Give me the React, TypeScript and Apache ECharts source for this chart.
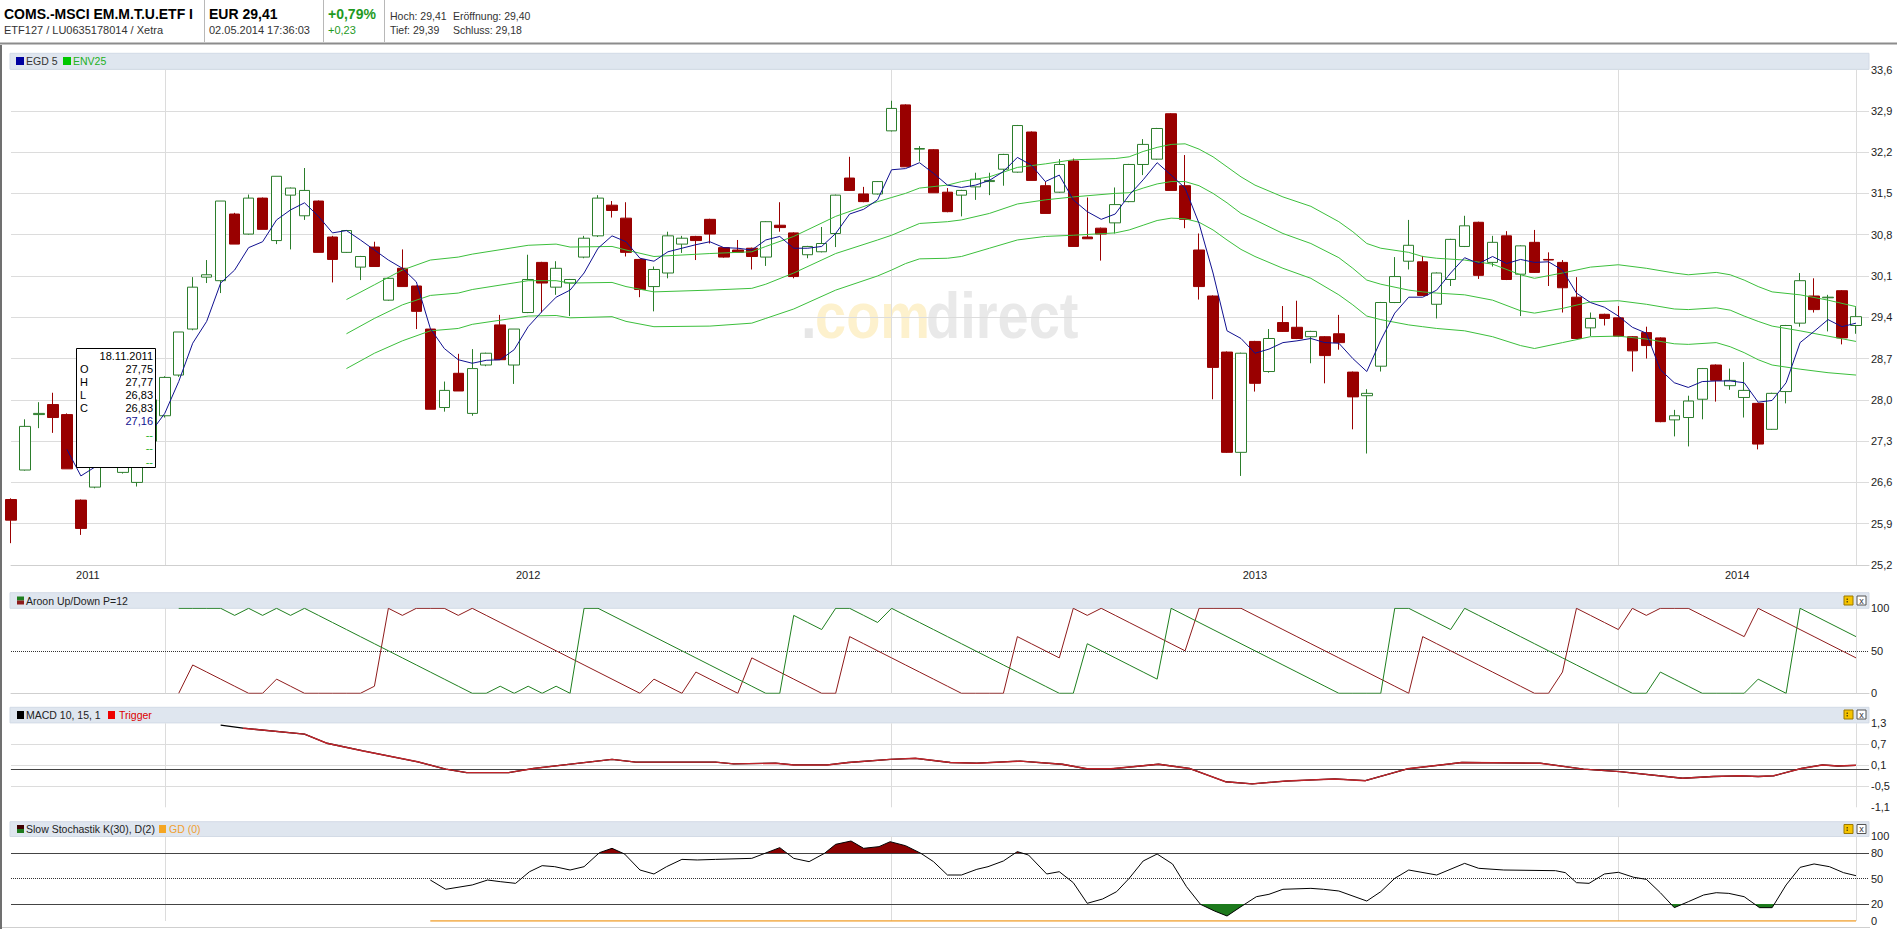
import React, { useEffect, useRef } from 'react';
import * as echarts from 'echarts';

// ---------------- header texts ----------------
const titleText = 'COMS.-MSCI EM.M.T.U.ETF I';
const subText = 'ETF127 / LU0635178014 / Xetra';
const priceText = 'EUR 29,41';
const timeText = '02.05.2014 17:36:03';
const changePct = '+0,79%';
const changeAbs = '+0,23';
const hochText = 'Hoch: 29,41';
const eroeffText = 'Eröffnung: 29,40';
const tiefText = 'Tief: 29,39';
const schlussText = 'Schluss: 29,18';

// ---------------- weekly candles (index 0 .. 132) ----------------
const open = [
  26.31, 26.81, 27.75, 27.92, 27.75, 26.30, 26.52, 27.10, 26.77, 26.60,
  27.30, 27.73, 28.42, 29.20, 30.08, 30.02, 31.15, 30.81, 31.42, 30.70,
  31.47, 31.12, 31.37, 30.76, 30.50, 30.25, 30.59, 29.69, 30.23, 29.93,
  29.20, 27.87, 28.45, 27.77, 28.59, 29.27, 28.59, 29.48, 30.33, 29.91,
  29.98, 30.42, 30.78, 31.30, 31.08, 30.38, 29.92, 30.15, 30.64, 30.77,
  31.06, 30.58, 30.54, 30.57, 30.42, 30.96, 30.83, 30.46, 30.51, 30.82,
  31.76, 31.49, 31.49, 32.56, 33.00, 32.25, 32.24, 31.52, 31.47, 31.61,
  31.70, 31.91, 31.86, 32.54, 31.63, 31.52, 32.05, 30.76, 30.91, 31.00,
  31.36, 31.99, 32.08, 32.85, 31.63, 30.54, 29.76, 28.81, 27.11, 28.99,
  28.48, 29.31, 29.23, 29.07, 29.07, 29.12, 28.47, 28.07, 28.57, 29.65,
  30.35, 30.34, 29.62, 30.04, 30.60, 31.01, 30.33, 30.78, 30.13, 30.67,
  30.38, 30.33, 29.74, 29.22, 29.45, 29.39, 29.07, 29.14, 29.05, 27.66,
  27.70, 28.01, 28.59, 28.24, 28.04, 27.94, 27.50, 28.14, 29.30, 29.76,
  29.73, 29.85, 29.26,
];
const high = [
  26.33, 27.67, 27.96, 28.12, 27.77, 26.31, 27.25, 27.30, 27.00, 27.30,
  28.10, 28.40, 29.15, 30.08, 30.37, 31.37, 31.17, 31.48, 31.43, 31.79,
  31.60, 31.93, 31.38, 30.78, 30.88, 30.44, 30.68, 30.07, 30.55, 29.94,
  29.21, 28.31, 28.78, 28.86, 28.80, 29.44, 29.20, 30.46, 30.34, 30.35,
  30.05, 30.78, 31.47, 31.37, 31.35, 30.39, 30.26, 30.85, 30.78, 30.78,
  31.07, 30.59, 30.71, 30.58, 31.03, 31.35, 30.84, 30.61, 30.93, 31.48,
  32.12, 31.61, 31.71, 33.07, 33.01, 32.30, 32.25, 31.59, 31.56, 31.85,
  31.85, 32.17, 32.66, 32.55, 31.70, 32.08, 32.09, 31.43, 30.92, 31.60,
  32.00, 32.42, 32.61, 32.86, 32.15, 30.82, 29.77, 28.82, 28.80, 29.00,
  29.20, 29.59, 29.68, 29.17, 29.08, 29.44, 28.48, 28.18, 29.66, 30.42,
  31.05, 30.44, 30.16, 30.73, 31.12, 31.02, 30.78, 30.86, 30.62, 30.88,
  30.50, 30.37, 30.08, 29.48, 29.46, 29.59, 29.08, 29.24, 29.06, 27.83,
  28.07, 28.54, 28.60, 28.53, 28.64, 27.95, 28.12, 29.27, 30.15, 30.06,
  29.78, 29.86, 29.57,
];
const low = [
  25.57, 26.80, 27.52, 27.44, 26.83, 25.71, 26.50, 26.85, 26.75, 26.53,
  27.25, 27.70, 28.39, 29.18, 29.98, 29.81, 30.64, 30.80, 30.89, 30.64,
  30.55, 31.05, 30.50, 29.99, 30.49, 30.03, 30.26, 29.68, 29.92, 29.20,
  27.84, 27.80, 28.15, 27.73, 28.57, 28.68, 28.27, 29.47, 29.48, 29.78,
  29.42, 30.40, 30.76, 31.09, 30.43, 29.74, 29.50, 30.06, 30.49, 30.37,
  30.65, 30.41, 30.49, 30.21, 30.27, 30.85, 30.06, 30.40, 30.50, 30.59,
  31.54, 31.35, 31.48, 32.55, 31.95, 32.04, 31.51, 31.18, 31.11, 31.39,
  31.47, 31.63, 31.85, 31.72, 31.16, 31.51, 30.60, 30.73, 30.36, 30.82,
  31.35, 31.81, 32.07, 31.55, 30.91, 29.70, 28.01, 27.10, 26.71, 28.14,
  28.46, 29.15, 29.03, 28.62, 28.28, 28.85, 27.50, 27.09, 28.48, 29.64,
  30.21, 29.76, 29.38, 29.93, 30.59, 30.05, 30.26, 30.03, 29.42, 30.15,
  29.93, 29.48, 29.03, 29.08, 29.26, 29.07, 28.48, 28.70, 27.62, 27.38,
  27.21, 27.67, 27.97, 28.17, 27.70, 27.16, 27.49, 27.94, 29.24, 29.48,
  29.16, 28.94, 29.12,
];
const close = [
  25.96, 27.55, 27.77, 27.70, 26.83, 25.82, 27.15, 27.00, 26.95, 27.20,
  28.00, 28.38, 29.15, 29.91, 30.12, 31.37, 30.64, 31.42, 30.89, 31.79,
  31.59, 31.55, 30.50, 30.38, 30.87, 30.43, 30.26, 30.06, 29.92, 29.50,
  27.84, 28.16, 28.15, 28.53, 28.79, 28.68, 29.20, 30.04, 29.98, 30.23,
  30.04, 30.74, 31.42, 31.21, 30.50, 29.87, 30.21, 30.78, 30.74, 30.70,
  30.81, 30.42, 30.50, 30.43, 31.02, 30.92, 30.09, 30.60, 30.65, 31.47,
  31.55, 31.36, 31.70, 32.94, 31.95, 32.26, 31.51, 31.19, 31.55, 31.74,
  31.72, 32.16, 32.65, 31.72, 31.16, 31.99, 30.60, 30.73, 30.81, 31.31,
  31.99, 32.33, 32.60, 31.55, 31.06, 29.92, 28.55, 27.11, 28.79, 28.28,
  29.04, 29.16, 29.04, 29.16, 28.75, 28.97, 28.05, 28.11, 29.65, 30.09,
  30.62, 29.77, 30.15, 30.72, 30.95, 30.11, 30.67, 30.04, 30.61, 30.16,
  30.37, 29.90, 29.04, 29.38, 29.38, 29.08, 28.83, 28.92, 27.63, 27.73,
  27.98, 28.53, 28.33, 28.33, 28.16, 27.25, 28.11, 29.26, 30.02, 29.53,
  29.74, 29.05, 29.41,
];

// EGD 5 (starts at candle 4)
const egdStart = 4;
const egd5 = [
  27.16, 26.71, 26.86, 26.92, 26.95, 27.10, 27.45,
  27.77, 28.31, 28.96, 29.33, 29.98, 30.20, 30.58, 30.68, 31.05, 31.22,
  31.34, 31.11, 30.83, 30.87, 30.71, 30.54, 30.37, 30.23, 30.00, 29.21,
  28.87, 28.68, 28.62, 28.67, 28.68, 28.85, 29.24, 29.50, 29.74, 29.86,
  30.15, 30.57, 30.78, 30.68, 30.40, 30.35, 30.51, 30.57, 30.63, 30.68,
  30.58, 30.57, 30.54, 30.71, 30.77, 30.57, 30.57, 30.60, 30.82, 31.15,
  31.23, 31.39, 31.90, 31.92, 32.02, 31.84, 31.64, 31.60, 31.64, 31.72,
  31.87, 32.11, 31.98, 31.70, 31.81, 31.39, 31.19, 31.06, 31.15, 31.47,
  31.73, 32.02, 31.81, 31.59, 30.99, 30.15, 29.17, 29.04, 28.79, 28.86,
  28.97, 29.00, 29.04, 28.97, 28.96, 28.70, 28.48, 29.01, 29.47, 29.74,
  29.74, 29.86, 30.15, 30.41, 30.31, 30.43, 30.31, 30.38, 30.33, 30.34,
  30.20, 29.81, 29.65, 29.57, 29.42, 29.23, 29.13, 28.51, 28.29, 28.21,
  28.31, 28.32, 28.32, 28.29, 27.96, 27.99, 28.29, 28.97, 29.16, 29.36,
  29.24, 29.30,
];

// ENV25 (read at these candle positions)
const envIdx = [
  24, 26, 28, 30, 32, 33, 37, 39, 40, 43, 44, 46, 50, 53, 54, 56, 59, 62, 63, 64,
  65, 67, 68, 70, 72, 74, 76, 79, 80, 81, 82, 83, 84, 85, 86, 87, 88, 89, 91, 93,
  95, 96, 97, 98, 100, 101, 102, 104, 106, 108, 109, 111, 113, 115, 117, 119, 120, 122, 123, 124,
  125, 126, 128, 130, 132,
];
const envUpper = [
  29.70, 29.95, 30.20, 30.37, 30.42, 30.47, 30.62, 30.64, 30.59, 30.60, 30.54, 30.43, 30.48, 30.51, 30.60, 30.77, 31.11, 31.36, 31.43, 31.50,
  31.59, 31.64, 31.70, 31.78, 31.94, 32.00, 32.07, 32.09, 32.12, 32.21, 32.28, 32.33, 32.34, 32.25, 32.12, 31.95, 31.78, 31.64, 31.44, 31.28,
  31.02, 30.85, 30.65, 30.57, 30.50, 30.43, 30.40, 30.37, 30.30, 30.12, 30.06, 30.15, 30.25, 30.29, 30.23, 30.15, 30.12, 30.16, 30.12, 30.03,
  29.92, 29.83, 29.78, 29.69, 29.58,
];
const envMiddle = [
  29.12, 29.38, 29.61, 29.77, 29.81, 29.87, 30.02, 30.02, 29.98, 29.99, 29.92, 29.83, 29.86, 29.89, 29.96, 30.15, 30.48, 30.71, 30.79, 30.89,
  30.99, 31.02, 31.05, 31.16, 31.32, 31.39, 31.44, 31.50, 31.51, 31.59, 31.66, 31.70, 31.70, 31.63, 31.50, 31.34, 31.16, 31.05, 30.82, 30.65,
  30.41, 30.23, 30.03, 29.96, 29.86, 29.83, 29.81, 29.78, 29.69, 29.51, 29.47, 29.55, 29.66, 29.68, 29.62, 29.54, 29.53, 29.56, 29.52, 29.42,
  29.33, 29.25, 29.17, 29.08, 28.99,
];
const envLower = [
  28.53, 28.79, 29.00, 29.17, 29.21, 29.28, 29.42, 29.43, 29.39, 29.41, 29.33, 29.24, 29.25, 29.30, 29.38, 29.54, 29.86, 30.10, 30.20, 30.31,
  30.39, 30.40, 30.43, 30.57, 30.71, 30.77, 30.79, 30.83, 30.88, 30.96, 31.04, 31.08, 31.07, 31.01, 30.88, 30.71, 30.55, 30.43, 30.23, 30.06,
  29.78, 29.61, 29.42, 29.36, 29.27, 29.24, 29.21, 29.17, 29.07, 28.92, 28.87, 28.97, 29.07, 29.08, 29.03, 28.95, 28.94, 28.97, 28.90, 28.80,
  28.68, 28.59, 28.52, 28.46, 28.42,
];

// Aroon Up/Down P=12 (starts at candle 12)
const aroonStart = 12;
const aroonUp = [
  100, 100, 100, 100, 91.67, 100, 91.67, 100, 91.67, 100,
  91.67, 83.33, 75, 66.67, 58.33, 50, 41.67, 33.33, 25, 16.67,
  8.33, 0, 0, 8.33, 0, 8.33, 0, 8.33, 0, 100,
  100, 91.67, 83.33, 75, 66.67, 58.33, 50, 41.67, 33.33, 25,
  16.67, 8.33, 0, 0, 91.67, 83.33, 75, 100, 100, 91.67,
  83.33, 100, 91.67, 83.33, 75, 66.67, 58.33, 50, 41.67, 33.33,
  25, 16.67, 8.33, 0, 0, 58.33, 50, 41.67, 33.33, 25,
  16.67, 100, 91.67, 83.33, 75, 66.67, 58.33, 50, 41.67, 33.33,
  25, 16.67, 8.33, 0, 0, 0, 0, 100, 100, 91.67,
  83.33, 75, 100, 91.67, 83.33, 75, 66.67, 58.33, 50, 41.67,
  33.33, 25, 16.67, 8.33, 0, 0, 25, 16.67, 8.33, 0,
  0, 0, 0, 16.67, 8.33, 0, 100, 91.67, 83.33, 75,
  66.67,
];
const aroonDown = [
  0, 33.33, 25, 16.67, 8.33, 0, 0, 16.67, 8.33, 0,
  0, 0, 0, 0, 8.33, 100, 91.67, 100, 100, 100,
  91.67, 100, 91.67, 83.33, 75, 66.67, 58.33, 50, 41.67, 33.33,
  25, 16.67, 8.33, 0, 16.67, 8.33, 0, 25, 16.67, 8.33,
  0, 41.67, 33.33, 25, 16.67, 8.33, 0, 0, 66.67, 58.33,
  50, 41.67, 33.33, 25, 16.67, 8.33, 0, 0, 0, 0,
  66.67, 58.33, 50, 41.67, 100, 91.67, 100, 91.67, 83.33, 75,
  66.67, 58.33, 50, 100, 100, 100, 100, 91.67, 83.33, 75,
  66.67, 58.33, 50, 41.67, 33.33, 25, 16.67, 8.33, 0, 66.67,
  58.33, 50, 41.67, 33.33, 25, 16.67, 8.33, 0, 0, 25,
  100, 91.67, 83.33, 75, 100, 91.67, 100, 100, 100, 91.67,
  83.33, 75, 66.67, 100, 91.67, 83.33, 75, 66.67, 58.33, 50,
  41.67,
];

// MACD 10,15,1 (read at candle positions)
const macdIdx = [
  15, 16.6, 21, 22.6, 25.2, 29.1, 31.1, 32.6, 35.6, 37.4, 40.2, 43, 44.7, 50.4, 51.7, 54.7,
  56, 58.4, 59.9, 62.9, 64.7, 67.2, 69.1, 72.2, 75.2, 77, 78.7, 82.1, 84.3, 86.9, 88.8, 91.2,
  94.7, 96.9, 99.9, 103.8, 109.4, 112.5, 115.1, 119.6, 121.8, 123.7, 125, 126.1, 128.1, 129.6, 130.7, 132,
];
const macdVal = [
  1.25, 1.16, 0.99, 0.73, 0.51, 0.20, -0.01, -0.11, -0.11, 0.01, 0.14, 0.27, 0.19, 0.19, 0.14, 0.16,
  0.11, 0.11, 0.18, 0.27, 0.30, 0.18, 0.16, 0.22, 0.13, 0.0, 0.0, 0.13, 0.01, -0.37, -0.43, -0.35,
  -0.29, -0.34, 0.0, 0.18, 0.16, -0.01, -0.08, -0.27, -0.22, -0.20, -0.22, -0.20, 0.01, 0.11, 0.08, 0.10,
];

// Slow Stochastik K(30), D(2)
const stochIdx = [
  30, 31.1, 33, 34.1, 35, 36.1, 37.1, 38, 38.9, 40, 41, 42.1, 43, 43.9, 45, 46, 46.9, 48, 49.1, 50.4,
  53, 55, 56, 57.1, 58.2, 59, 60.1, 61, 62.1, 62.9, 64, 65.1, 66, 67, 68, 69.1, 69.9, 71, 72, 72.8,
  74.1, 75, 76, 77, 78.1, 79.1, 80, 81, 82, 83.1, 84.1, 85.1, 86.1, 87, 88, 89.1, 90, 91, 93, 93.9,
  95, 97, 98, 99, 100, 102, 104, 105, 106.8, 110.5, 111.2, 112, 112.9, 114, 115, 116.1, 117, 118, 119, 120,
  121.1, 122, 122.9, 124, 125.1, 126, 127, 128, 129, 130.1, 131.1, 132,
];
const stochVal = [
  48.2, 37.3, 42.4, 48.2, 46.3, 44.3, 58.0, 65.1, 63.9, 60.0, 63.9, 80.4, 85.5, 78.8, 60.0, 55.3, 63.9, 72.5, 71.8, 72.5,
  73.7, 86.3, 73.7, 69.8, 79.6, 90.2, 94.1, 85.5, 87.5, 93.3, 88.6, 79.6, 69.8, 54.1, 54.1, 60.8, 63.9, 70.6, 81.6, 77.6,
  55.3, 58.0, 45.1, 20.8, 25.9, 34.5, 50.2, 70.6, 78.8, 67.1, 40.4, 19.6, 11.8, 5.9, 16.9, 28.6, 31.4, 37.3, 38.4, 37.3,
  35.3, 23.5, 34.5, 50.2, 60.0, 54.1, 67.8, 62.0, 60.0, 59.2, 56.9, 45.1, 44.3, 55.3, 57.3, 51.4, 49.0, 33.3, 15.7, 22.7,
  30.6, 33.3, 32.5, 28.6, 15.7, 15.7, 42.4, 63.1, 67.1, 63.9, 56.9, 53.3,
];
const gdIdx = [30, 132];
const gdVal = [0, 0];

// axes
const yearLabels = ['2011', '2012', '2013', '2014'];
const yearStartIdx = [0, 11, 63, 115];
const lastIdx = 132;
const priceMin = 25.2;
const priceMax = 33.6;
const priceStep = 0.7;
const aroonTicks = [0, 50, 100];
const macdTicks = [-1.1, -0.5, 0.1, 0.7, 1.3];
const stochTicks = [0, 20, 50, 80, 100];
const stochLevels = [20, 50, 80];

// tooltip snapshot shown in the chart
const tipIdx = 4;
const tipDate = '18.11.2011';

// ---------------- layout / styles ----------------
const FONT = "'Liberation Sans', Arial, Helvetica, sans-serif";
const X_MAX = 132.93;
const LEFT = 11;
const WIDTH = 1858;
const GREEN = '#2b7d2b';
const RED = '#990000';
const BAR = '#dfe6ef';

const fmt1 = (v: number) => v.toFixed(1).replace('.', ',');
const fmt2 = (v: number) => v.toFixed(2).replace('.', ',');

function T(x: number, y: number, text: string, style: any = {}, z = 5): any {
  return {
    type: 'text', x, y, z, silent: true,
    style: { text, fontFamily: FONT, fontSize: 11, fill: '#222', verticalAlign: 'middle', align: 'left', ...style },
  };
}
function R(x: number, y: number, w: number, h: number, style: any, z = 1): any {
  return { type: 'rect', z, silent: true, shape: { x, y, width: w, height: h }, style };
}
function L(x1: number, y1: number, x2: number, y2: number, stroke: string, lineWidth = 1, z = 1): any {
  return { type: 'line', z, silent: true, shape: { x1, y1, x2, y2 }, style: { stroke, lineWidth } };
}
function icons(y: number): any[] {
  return [
    R(1844, y, 9, 9, { fill: '#f6c400', stroke: '#9a7800', lineWidth: 1 }, 3),
    R(1846.5, y + 2.5, 1.5, 1.5, { fill: '#6b5200' }, 4),
    R(1846.5, y + 5, 1.5, 1.5, { fill: '#6b5200' }, 4),
    R(1857, y, 9, 9, { fill: '#ffffff', stroke: '#555', lineWidth: 1 }, 3),
    T(1861.5, y + 4.5, 'x', { fontSize: 9, align: 'center', fill: '#333' }, 4),
  ];
}

function buildOption(): any {
  const yearLines = [...yearStartIdx.slice(1), lastIdx];
  const yearLabelPos = yearStartIdx.map((s, k) => (s + (k + 1 < yearStartIdx.length ? yearStartIdx[k + 1] : lastIdx)) / 2);

  const candleData = open.map((o, i) => [i, o, close[i], low[i], high[i]]);
  const egdData = egd5.map((v, k) => [egdStart + k, v]);
  const upData = envIdx.map((x, k) => [x, envUpper[k]]);
  const midData = envIdx.map((x, k) => [x, envMiddle[k]]);
  const lowData = envIdx.map((x, k) => [x, envLower[k]]);
  const aUp = aroonUp.map((v, k) => [aroonStart + k, v]);
  const aDown = aroonDown.map((v, k) => [aroonStart + k, v]);
  const macdData = macdIdx.map((x, k) => [x, macdVal[k]]);
  const stochData = stochIdx.map((x, k) => [x, stochVal[k]]);
  const gdData = gdIdx.map((x, k) => [x, gdVal[k]]);

  const vLineItems = yearLines.map((x) => ({ xAxis: x }));
  const markBase = {
    silent: true,
    z: 1,
    symbol: ['none', 'none'],
    label: { show: false },
    emphasis: { disabled: true },
    animation: false,
    lineStyle: { color: '#dcdcdc', width: 1, type: 'solid' },
  };

  const gridDefs = [
    { top: 69.5, height: 495.5 },
    { top: 608.3, height: 85 },
    { top: 723.3, height: 84 },
    { top: 836, height: 85 },
    { top: 836, height: 17 },
    { top: 904, height: 17 },
  ];
  const grid = gridDefs.map((g) => ({ left: LEFT, width: WIDTH, top: g.top, height: g.height, outerBoundsMode: 'none' }));

  const axisLbl = { fontFamily: FONT, fontSize: 11, color: '#222' };

  const xAxis = gridDefs.map((_, k) => ({
    type: 'value',
    gridIndex: k,
    min: 0,
    max: X_MAX,
    axisTick: { show: false },
    splitLine: { show: false },
    axisLine: { show: k < 3, lineStyle: { color: '#cfcfcf', width: 1 } },
    axisLabel: k === 0
      ? {
          ...axisLbl,
          margin: 4,
          customValues: yearLabelPos,
          formatter: (v: number) => {
            const j = yearLabelPos.findIndex((p) => Math.abs(p - v) < 1e-6);
            return j >= 0 ? yearLabels[j] : '';
          },
        }
      : { show: false },
  }));

  const yAxis = [
    {
      type: 'value', gridIndex: 0, position: 'right', min: priceMin, max: priceMax, interval: priceStep,
      axisLine: { show: false }, axisTick: { show: false },
      axisLabel: { ...axisLbl, margin: 2, formatter: fmt1 },
      splitLine: { lineStyle: { color: '#dcdcdc', width: 1 } },
    },
    {
      type: 'value', gridIndex: 1, position: 'right', min: 0, max: 100,
      axisLine: { show: false }, axisTick: { show: false },
      axisLabel: { ...axisLbl, margin: 2, customValues: aroonTicks },
      splitLine: { show: false },
    },
    {
      type: 'value', gridIndex: 2, position: 'right', min: -1.1, max: 1.3,
      axisLine: { show: false }, axisTick: { show: false },
      axisLabel: { ...axisLbl, margin: 2, customValues: macdTicks, formatter: fmt1 },
      splitLine: { show: false },
    },
    {
      type: 'value', gridIndex: 3, position: 'right', min: 0, max: 100,
      axisLine: { show: false }, axisTick: { show: false },
      axisLabel: { ...axisLbl, margin: 2, customValues: stochTicks },
      splitLine: { show: false },
    },
    { type: 'value', gridIndex: 4, min: 80, max: 100, show: false },
    { type: 'value', gridIndex: 5, min: 0, max: 20, show: false },
  ];

  const series: any[] = [
    {
      type: 'candlestick', name: 'Kurs', xAxisIndex: 0, yAxisIndex: 0,
      data: candleData, encode: { x: 0, y: [1, 2, 3, 4] },
      barWidth: 11,
      itemStyle: { color: '#ffffff', color0: RED, borderColor: GREEN, borderColor0: RED, borderWidth: 1 },
      markLine: { ...markBase, data: vLineItems },
      z: 3,
    },
    ...[upData, midData, lowData].map((d) => ({
      type: 'line', name: 'ENV25', xAxisIndex: 0, yAxisIndex: 0, data: d, showSymbol: false,
      lineStyle: { color: '#3cbf3c', width: 1 }, z: 4,
    })),
    {
      type: 'line', name: 'EGD 5', xAxisIndex: 0, yAxisIndex: 0, data: egdData, showSymbol: false,
      lineStyle: { color: '#101090', width: 1 }, z: 5,
    },
    {
      type: 'line', name: 'Aroon Down', xAxisIndex: 1, yAxisIndex: 1, data: aDown, showSymbol: false,
      lineStyle: { color: '#8e1b1b', width: 1 },
      markLine: { ...markBase, data: [...vLineItems, { yAxis: 50, lineStyle: { color: '#333', type: 'dotted', width: 1 } }] },
    },
    {
      type: 'line', name: 'Aroon Up', xAxisIndex: 1, yAxisIndex: 1, data: aUp, showSymbol: false,
      lineStyle: { color: '#1f7f1f', width: 1 },
    },
    {
      type: 'line', name: 'MACD', xAxisIndex: 2, yAxisIndex: 2, data: macdData, showSymbol: false,
      lineStyle: { color: '#000000', width: 1.3 },
      markLine: {
        ...markBase,
        data: [
          ...vLineItems,
          ...macdTicks.slice(1, 4).map((v) => ({ yAxis: v, lineStyle: { color: '#dcdcdc', type: 'solid', width: 1 } })),
          { yAxis: 0, lineStyle: { color: '#444', type: 'solid', width: 1 } },
        ],
      },
    },
    {
      type: 'line', name: 'Trigger', xAxisIndex: 2, yAxisIndex: 2, data: macdData.slice(1), showSymbol: false,
      lineStyle: { color: '#c0242a', width: 1.4 },
    },
    {
      type: 'line', name: 'fillHigh', xAxisIndex: 4, yAxisIndex: 4, data: stochData, showSymbol: false, clip: true,
      lineStyle: { opacity: 0, width: 0 },
      areaStyle: { color: '#8b0000', opacity: 1, origin: 'start' },
    },
    {
      type: 'line', name: 'fillLow', xAxisIndex: 5, yAxisIndex: 5, data: stochData, showSymbol: false, clip: true,
      lineStyle: { opacity: 0, width: 0 },
      areaStyle: { color: '#1d7a1d', opacity: 1, origin: 'end' },
    },
    {
      type: 'line', name: 'GD (0)', xAxisIndex: 3, yAxisIndex: 3, data: gdData, showSymbol: false,
      lineStyle: { color: '#f0a030', width: 1.5 },
    },
    {
      type: 'line', name: 'Slow Stochastik', xAxisIndex: 3, yAxisIndex: 3, data: stochData, showSymbol: false,
      lineStyle: { color: '#000000', width: 1 },
      markLine: {
        ...markBase,
        data: [
          ...vLineItems,
          ...stochLevels.map((v) => ({
            yAxis: v,
            lineStyle: v === 50 ? { color: '#333', type: 'dotted', width: 1 } : { color: '#444', type: 'solid', width: 1 },
          })),
        ],
      },
      z: 5,
    },
  ];

  // ---------------- graphic elements ----------------
  const g: any[] = [];
  // header
  g.push(T(4, 14, titleText, { fontSize: 14, fontWeight: 'bold', fill: '#000' }));
  g.push(T(4, 29.5, subText, { fontSize: 11, fill: '#333' }));
  g.push(L(204.5, 0, 204.5, 42, '#b8b8b8'));
  g.push(T(209, 14, priceText, { fontSize: 14, fontWeight: 'bold', fill: '#000' }));
  g.push(T(209, 29.5, timeText, { fontSize: 11, fill: '#333' }));
  g.push(L(323.5, 0, 323.5, 42, '#b8b8b8'));
  g.push(T(328, 14, changePct, { fontSize: 14, fontWeight: 'bold', fill: '#1f9a1f' }));
  g.push(T(328, 29.5, changeAbs, { fontSize: 11, fill: '#1f9a1f' }));
  g.push(L(384.5, 0, 384.5, 42, '#b8b8b8'));
  g.push(T(390, 15.5, hochText, { fontSize: 10.5, fill: '#333' }));
  g.push(T(453, 15.5, eroeffText, { fontSize: 10.5, fill: '#333' }));
  g.push(T(390, 29.5, tiefText, { fontSize: 10.5, fill: '#333' }));
  g.push(T(453, 29.5, schlussText, { fontSize: 10.5, fill: '#333' }));
  g.push(L(0, 43.5, 1897, 43.5, '#8c8c8c', 2));
  // frame
  g.push(R(0, 45, 2, 884, { fill: '#707070' }));
  g.push(L(2, 927.5, 1870, 927.5, '#cfcfcf'));
  // panel bars
  g.push(R(10, 53.3, 1859, 16, { fill: BAR, stroke: '#d3dbe6', lineWidth: 1 }));
  g.push(R(10, 592.7, 1859, 15.6, { fill: BAR, stroke: '#d3dbe6', lineWidth: 1 }));
  g.push(R(10, 707.3, 1859, 15.6, { fill: BAR, stroke: '#d3dbe6', lineWidth: 1 }));
  g.push(R(10, 821.7, 1859, 14.8, { fill: BAR, stroke: '#d3dbe6', lineWidth: 1 }));
  // legends
  g.push(R(16, 57, 8, 8, { fill: '#0000a0' }, 3));
  g.push(T(26, 61.3, 'EGD 5', { fontSize: 10.5, fill: '#333' }));
  g.push(R(63, 57, 8, 8, { fill: '#00c800' }, 3));
  g.push(T(73, 61.3, 'ENV25', { fontSize: 10.5, fill: '#22b022' }));

  g.push(R(17, 596.5, 7, 4, { fill: '#1f7f1f' }, 3));
  g.push(R(17, 600.5, 7, 4, { fill: '#8e1b1b' }, 3));
  g.push(T(26, 600.7, 'Aroon Up/Down P=12', { fontSize: 10.5, fill: '#222' }));
  g.push(...icons(596));

  g.push(R(17, 711, 7, 8, { fill: '#000' }, 3));
  g.push(T(26, 715, 'MACD 10, 15, 1', { fontSize: 10.5, fill: '#222' }));
  g.push(R(108, 711, 7, 8, { fill: '#ee0000' }, 3));
  g.push(T(119, 715, 'Trigger', { fontSize: 10.5, fill: '#dd0000' }));
  g.push(...icons(710));

  g.push(R(17, 825, 7, 4, { fill: '#400000' }, 3));
  g.push(R(17, 829, 7, 4, { fill: '#1d7a1d' }, 3));
  g.push(T(26, 829.3, 'Slow Stochastik K(30), D(2)', { fontSize: 10.5, fill: '#222' }));
  g.push(R(159, 825, 7, 8, { fill: '#f5a623' }, 3));
  g.push(T(169, 829.3, 'GD (0)', { fontSize: 10.5, fill: '#f0a030' }));
  g.push(...icons(824.5));

  // watermark
  const wm = (x: number, text: string, fill: string) => ({
    type: 'text', x, y: 338, scaleY: 1.15, z: 0, silent: true,
    style: { text, x: 0, y: -19.5, fontFamily: FONT, fontWeight: 'bold', fontSize: 56, fill, verticalAlign: 'middle' },
  });
  g.push(wm(801, '.', '#e6e6e6'));
  g.push(wm(815, 'com', '#fdf1cd'));
  g.push(wm(926, 'direct', '#e9e9e9'));

  // tooltip snapshot
  const tipRows: [string, number][] = [
    ['O', open[tipIdx]], ['H', high[tipIdx]], ['L', low[tipIdx]], ['C', close[tipIdx]],
  ];
  g.push(R(76.5, 348.5, 79, 119, { fill: '#ffffff', stroke: '#000', lineWidth: 1 }, 100));
  g.push(T(153, 356.3, tipDate, { align: 'right', fill: '#000' }, 101));
  tipRows.forEach(([k, v], r) => {
    g.push(T(80, 369.3 + r * 13, k, { fill: '#000' }, 101));
    g.push(T(153, 369.3 + r * 13, fmt2(v), { align: 'right', fill: '#000' }, 101));
  });
  g.push(T(153, 421.3, fmt2(egd5[tipIdx - egdStart]), { align: 'right', fill: '#101090' }, 101));
  [435, 448.3, 461.7].forEach((y) => g.push(T(153, y, '--', { align: 'right', fill: '#22b022' }, 101)));

  return {
    animation: false,
    backgroundColor: '#ffffff',
    textStyle: { fontFamily: FONT },
    grid,
    xAxis,
    yAxis,
    series,
    graphic: { elements: g },
  };
}

export default function App() {
  const ref = useRef<HTMLDivElement>(null);
  useEffect(() => {
    document.body.style.margin = '0';
    const chart = echarts.init(ref.current as HTMLDivElement, null, { renderer: 'svg' });
    chart.setOption(buildOption());
    return () => chart.dispose();
  }, []);
  return <div ref={ref} style={{ width: 1897, height: 929 }} />;
}
